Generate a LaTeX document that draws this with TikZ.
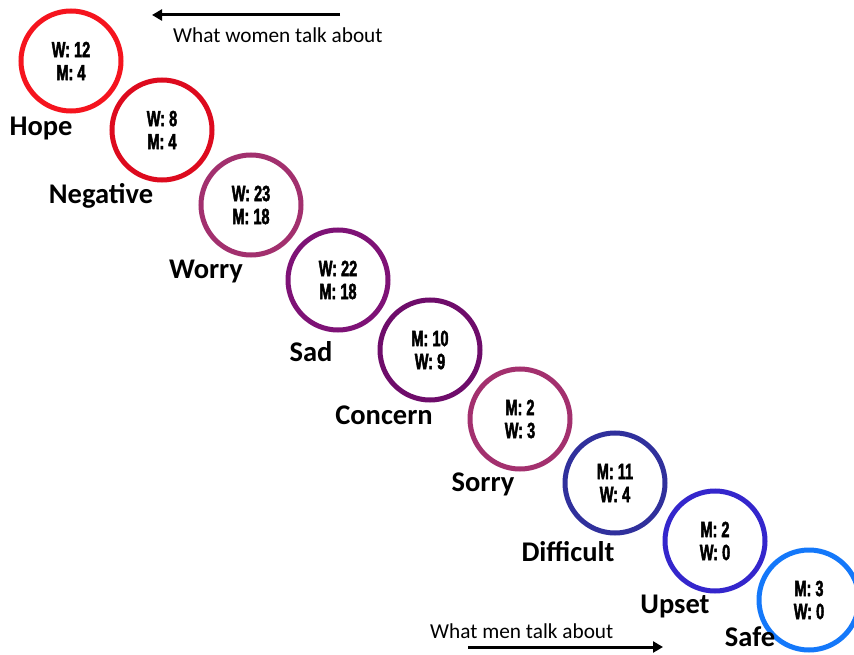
\documentclass[tikz,border=0pt]{standalone}
\usepackage{fontspec}
\setmainfont{Carlito}
\newfontfamily\numfont[FakeStretch=0.66,FakeBold=2]{Liberation Sans}
\usetikzlibrary{arrows.meta}
\definecolor{cA}{HTML}{F5141E}
\definecolor{cB}{HTML}{DD0A1E}
\definecolor{cC}{HTML}{A2306E}
\definecolor{cD}{HTML}{7E1276}
\definecolor{cE}{HTML}{6E0C6A}
\definecolor{cF}{HTML}{A3306E}
\definecolor{cG}{HTML}{30309C}
\definecolor{cH}{HTML}{3426CC}
\definecolor{cI}{HTML}{1478FA}
\begin{document}
\begin{tikzpicture}[x=1pt,y=-1pt,
  ring/.style={circle,draw=#1,line width=5pt,minimum size=100pt,inner sep=0pt,align=center,
    font=\numfont\bfseries\fontsize{22}{23}\selectfont},
  word/.style={font=\bfseries\fontsize{28.5}{30}\selectfont,inner sep=0pt,anchor=center},
  caption/.style={font=\fontsize{21.3}{24}\selectfont,inner sep=0pt},
  pointer/.style={line width=3pt,-{Triangle[length=10pt,width=11pt]}}
]
\useasboundingbox (0,0) rectangle (854,655);
\fill[white] (0,0) rectangle (854,655);

\node[ring=cA] (c1) at (71,61)   {W: 12\\M: 4};
\node[ring=cB] (c2) at (162,130) {W: 8\\M: 4};
\node[ring=cC] (c3) at (251,205) {W: 23\\M: 18};
\node[ring=cD] (c4) at (338,280) {W: 22\\M: 18};
\node[ring=cE] (c5) at (430,350) {M: 10\\W: 9};
\node[ring=cF] (c6) at (520,419) {M: 2\\W: 3};
\node[ring=cG] (c7) at (615,483) {M: 11\\W: 4};
\node[ring=cH] (c8) at (715,541) {M: 2\\W: 0};
\node[ring=cI] (c9) at (809,600) {M: 3\\W: 0};

\node[word] (l1) at (41,129)  {Hope};
\node[word] (l2) at (101,196) {Negative};
\node[word] (l3) at (206,271) {Worry};
\node[word] (l4) at (311,352) {Sad};
\node[word] (l5) at (384,415) {Concern};
\node[word] (l6) at (483,484) {Sorry};
\node[word] (l7) at (568,552) {Difficult};
\node[word] (l8) at (675,606) {Upset};
\node[word] (l9) at (750,637) {Safe};

\coordinate (wa) at (340,15);
\coordinate (wb) at (152,15);
\draw[pointer] (wa) -- (wb);
\node[caption,anchor=west] (wt) at (173,35) {What women talk about};

\coordinate (ma) at (468,647);
\coordinate (mb) at (663,647);
\draw[pointer] (ma) -- (mb);
\node[caption,anchor=west] (mt) at (430,631) {What men talk about};
\end{tikzpicture}
\end{document}
